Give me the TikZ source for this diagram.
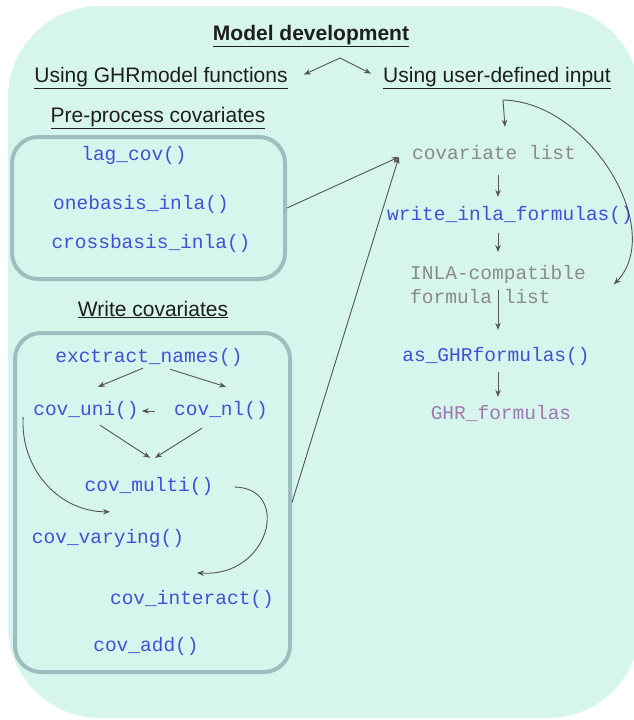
\documentclass[tikz,border=0pt]{standalone}
\usepackage{fontspec}
\setmainfont{Liberation Sans}
\newfontfamily\monofam{Liberation Mono}
\usetikzlibrary{arrows.meta,calc}
\definecolor{bgc}{HTML}{D6F5EC}
\definecolor{boxc}{HTML}{9CBEBE}
\definecolor{fnc}{HTML}{3F51D6}
\definecolor{grc}{HTML}{8A8A8A}
\definecolor{ghrc}{HTML}{9E78B2}
\definecolor{arrc}{HTML}{555555}
\definecolor{hdrc}{HTML}{1E1E1E}
\begin{document}
\begin{tikzpicture}[x=1pt,y=-1pt,
  hdr/.style={font=\fontsize{21}{25}\selectfont, text=hdrc, inner sep=0, anchor=base},
  mono/.style={font=\monofam\fontsize{19.5}{24}\selectfont, inner sep=0},
  fn/.style={mono, text=fnc, text height=12pt, text depth=4pt},
  gfn/.style={mono, text=grc, text height=12pt, text depth=4pt},
  arr/.style={draw=arrc, line width=0.9pt, -{Stealth[length=7pt,width=5.5pt]}},
  box/.style={draw=boxc, line width=4pt, rounded corners=26pt, inner sep=0}]
\useasboundingbox (0,0) rectangle (633,720);
\fill[bgc, rounded corners=92pt] (8,6) rectangle (640,718);

% headers
\node[hdr] (title) at (311,40) {\underline{\textbf{Model development}}};
\node[hdr] (ghr) at (161,82) {\underline{Using GHRmodel functions}};
\node[hdr] (user) at (497,82) {\underline{Using user-defined input}};
\node[hdr] (pre) at (158,122) {\underline{Pre-process covariates}};
\node[hdr] (wc) at (153,316) {\underline{Write covariates}};

% boxes
\node[box, minimum width=273pt, minimum height=142pt] (box1) at (148.5,208) {};
\node[box, minimum width=275pt, minimum height=339pt] (box2) at (152.5,502.5) {};

% box 1 content
\node[fn] (lag) at (134,156) {lag\_cov()};
\node[fn] (one) at (141,205) {onebasis\_inla()};
\node[fn] (cross) at (151,244) {crossbasis\_inla()};

% box 2 content
\node[fn] (exn) at (149,358) {exctract\_names()};
\node[fn] (cuni) at (86,411) {cov\_uni()};
\node[fn] (cnl) at (221,411) {cov\_nl()};
\node[fn] (cmulti) at (149,487) {cov\_multi()};
\node[fn] (cvary) at (108,539) {cov\_varying()};
\node[fn] (cinter) at (192,600) {cov\_interact()};
\node[fn] (cadd) at (146,647) {cov\_add()};

% right column
\node[gfn] (covlist) at (494,155) {covariate list};
\node[fn] (write) at (510,216) {write\_inla\_formulas()};
\node[mono, text=grc, align=left, anchor=north west] (inla) at (410,265) {INLA-compatible\\formula list};
\node[fn] (asg) at (496,357) {as\_GHRformulas()};
\node[fn, text=ghrc] (ghrf) at (501,415) {GHR\_formulas};

\coordinate (peak) at (340,58);
\coordinate (split) at (503,100);
\coordinate (ax) at (498,0);

% top arrows
\draw[arr] (peak) -- ($(ghr.east)+(16,-3)$);
\draw[arr] (peak) -- ($(user.west)+(-12,-4)$);

% user-defined branch
\draw[arr] (split) -- ($(covlist.north)+(11,-20)$);
\draw[arr] (split) .. controls +(87,2) and +(52,-54) .. ($(inla.east)+(28,0)$);

% right column chain
\draw[arr] ($(covlist.south -| ax)+(0,12)$) -- ($(write.north -| ax)+(0,-11)$);
\draw[arr] ($(write.south -| ax)+(0,9)$) -- ($(inla.north -| ax)+(0,-13)$);
\draw[arr] ($(inla.south -| ax)+(0,-14)$) -- ($(asg.north -| ax)+(0,-19)$);
\draw[arr] ($(asg.south -| ax)+(0,7)$) -- ($(ghrf.north -| ax)+(0,-10)$);

% boxes to covariate list
\draw[arr] (box1.east) -- ($(covlist.west)+(-13,2)$);
\draw[arr] (box2.east) -- ($(covlist.west)+(-13,2)$);

% write covariates internal arrows
\draw[arr] ($(exn.south)+(-6,2)$) -- ($(cuni.north)+(12,-16)$);
\draw[arr] ($(exn.south)+(21,3)$) -- ($(cnl.north)+(5,-16)$);
\draw[arr] ($(cnl.west)+(-19,0)$) -- ($(cuni.east)+(3,0)$);
\draw[arr] ($(cuni.south)+(14,6)$) -- ($(cmulti.north)+(1,-21)$);
\draw[arr] ($(cnl.south)+(-19,9)$) -- ($(cmulti.north)+(6,-21)$);
\draw[arr] ($(cuni.west)+(-10,6)$) .. controls +(-3,53) and +(-50,0) .. ($(cvary.north)+(2,-19)$);
\draw[arr] ($(cmulti.east)+(21,0)$) .. controls +(57,1) and +(73,5) .. ($(cinter.north)+(5,-19)$);
\end{tikzpicture}
\end{document}
